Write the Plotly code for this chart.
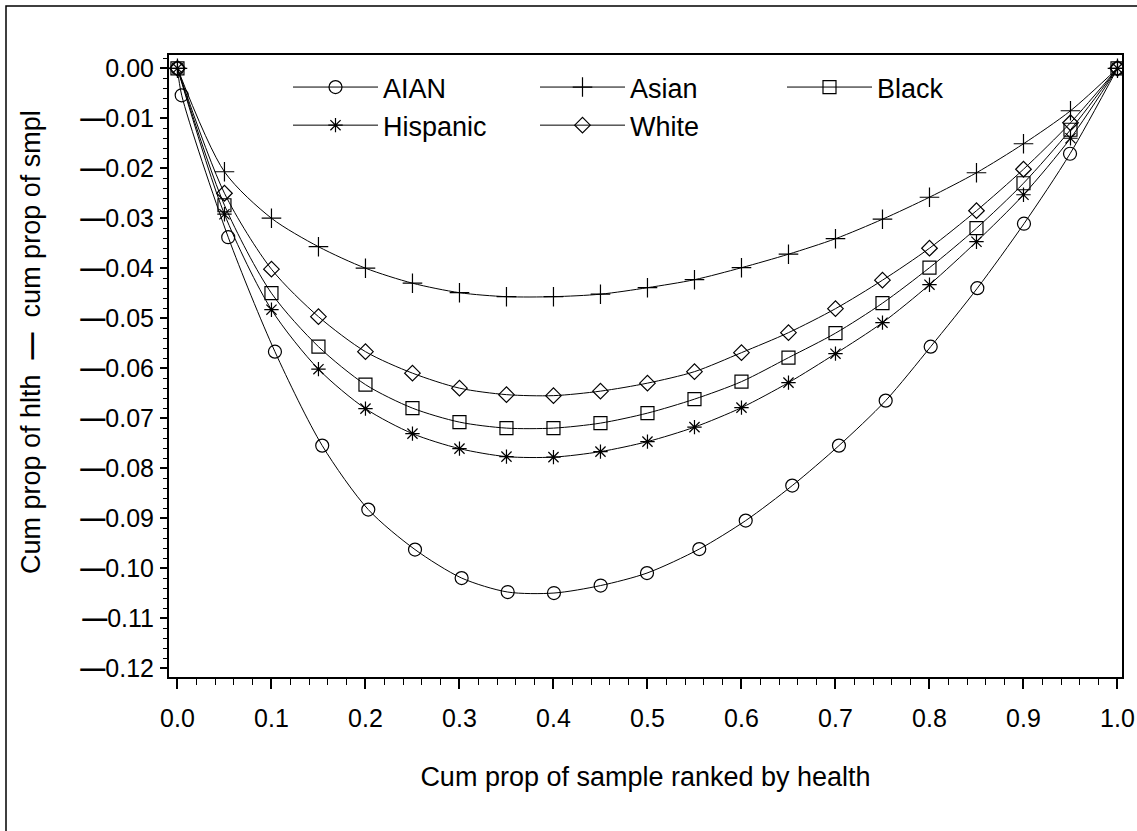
import plotly.graph_objects as go

# ---- data ----
grid = [0.00, 0.05, 0.10, 0.15, 0.20, 0.25, 0.30, 0.35, 0.40, 0.45, 0.50,
        0.55, 0.60, 0.65, 0.70, 0.75, 0.80, 0.85, 0.90, 0.95, 1.00]

aian_x = [0.0, 0.0045, 0.054, 0.1037, 0.154, 0.203, 0.2527, 0.3023, 0.3513, 0.4005,
          0.4502, 0.4995, 0.5551, 0.6045, 0.654, 0.7037, 0.7534, 0.8013, 0.8509,
          0.9005, 0.9495, 1.0]
aian_y = [0.0, -0.0054, -0.0338, -0.0567, -0.0755, -0.0883, -0.0963, -0.1020, -0.1048,
          -0.1050, -0.1035, -0.1010, -0.0962, -0.0905, -0.0835, -0.0755, -0.0665,
          -0.0557, -0.0440, -0.0311, -0.0171, 0.0]

asian_y = [0.0, -0.0207, -0.0300, -0.0357, -0.0400, -0.0430, -0.0449, -0.0457, -0.0457,
           -0.0452, -0.0439, -0.0423, -0.0399, -0.0372, -0.0341, -0.0302, -0.0258,
           -0.0209, -0.0151, -0.0085, 0.0]

black_y = [0.0, -0.0274, -0.0450, -0.0557, -0.0633, -0.0680, -0.0708, -0.0720, -0.0720,
           -0.0710, -0.0690, -0.0662, -0.0627, -0.0579, -0.0530, -0.0470, -0.0399,
           -0.0320, -0.0230, -0.0123, 0.0]

hisp_y = [0.0, -0.0292, -0.0483, -0.0602, -0.0681, -0.0731, -0.0761, -0.0777, -0.0778,
          -0.0767, -0.0747, -0.0718, -0.0679, -0.0629, -0.0571, -0.0509, -0.0433,
          -0.0347, -0.0253, -0.0140, 0.0]

white_y = [0.0, -0.0250, -0.0402, -0.0497, -0.0567, -0.0610, -0.0640, -0.0653, -0.0655,
           -0.0646, -0.0630, -0.0607, -0.0569, -0.0529, -0.0481, -0.0424, -0.0360,
           -0.0285, -0.0202, -0.0109, 0.0]

x_ticks = [0.0, 0.1, 0.2, 0.3, 0.4, 0.5, 0.6, 0.7, 0.8, 0.9, 1.0]
y_ticks = [0.00, -0.01, -0.02, -0.03, -0.04, -0.05, -0.06, -0.07, -0.08, -0.09,
           -0.10, -0.11, -0.12]

FONT = "Liberation Sans, Arial, sans-serif"


def ylab(v):
    s = f"{abs(v):.2f}"
    return s if v == 0 else "<b>\u2014</b>" + s


series = [
    ("AIAN", aian_x, aian_y, "circle-open", 13),
    ("Asian", grid, asian_y, "cross-thin-open", 14),
    ("Black", grid, black_y, "square-open", 13),
    ("Hispanic", grid, hisp_y, "asterisk-open", 12),
    ("White", grid, white_y, "diamond-open", 12),
]

fig = go.Figure()
for name, xs, ys, sym, sz in series:
    fig.add_trace(go.Scatter(
        x=xs, y=ys, name=name, mode="lines+markers",
        line=dict(color="black", width=1, shape="spline", smoothing=0.8),
        marker=dict(symbol=sym, size=sz, color="black",
                    line=dict(color="black", width=1.2)),
    ))

W, H = 1137, 831
ml, mr, mt, mb = 169, 15, 55, 154
pw, ph = W - ml - mr, H - mt - mb

fig.update_layout(
    width=W, height=H,
    margin=dict(l=ml, r=mr, t=mt, b=mb, pad=0),
    paper_bgcolor="white", plot_bgcolor="white",
    font=dict(family=FONT, size=25, color="black"),
    showlegend=True,
    legend=dict(
        orientation="h", x=(288 - ml) / pw, y=(677 - 63) / ph,
        xanchor="left", yanchor="top",
        entrywidth=147, entrywidthmode="pixels",
        itemwidth=85, bgcolor="rgba(0,0,0,0)",
        font=dict(family=FONT, size=27, color="black"),
        traceorder="normal",
    ),
    xaxis=dict(
        range=[-0.009, 1.0048],
        tickvals=x_ticks, ticktext=[f"{v:.1f}" for v in x_ticks],
        ticks="outside", ticklen=10, tickwidth=1.5, tickcolor="black",
        minor=dict(dtick=0.02, tick0=0, ticks="outside", ticklen=6,
                   tickwidth=1, tickcolor="black"),
        showline=True, linewidth=2, linecolor="black", mirror=True,
        showgrid=False, zeroline=False,
        tickfont=dict(family=FONT, size=25),
        ticklabelstandoff=8,
        title=dict(text="Cum prop of sample ranked by health",
                   font=dict(family=FONT, size=27), standoff=36),
        automargin=False,
    ),
    yaxis=dict(
        range=[-0.1218, 0.00266],
        tickvals=y_ticks, ticktext=[ylab(v) for v in y_ticks],
        ticks="outside", ticklen=7, tickwidth=1.5, tickcolor="black",
        minor=dict(dtick=0.002, tick0=0, ticks="outside", ticklen=4,
                   tickwidth=1, tickcolor="black"),
        showline=True, linewidth=2, linecolor="black", mirror=True,
        showgrid=False, zeroline=False,
        tickfont=dict(family=FONT, size=25),
        ticklabelstandoff=1,
        automargin=False,
    ),
    annotations=[
        dict(text="Cum prop of hlth\u00a0\u00a0<b>\u2014</b>\u00a0\u00a0cum prop of smpl",
             xref="paper", yref="paper",
             x=(31 - ml) / pw, y=(677 - 342) / ph,
             xanchor="center", yanchor="middle", textangle=-90,
             showarrow=False, font=dict(family=FONT, size=27, color="black")),
    ],
    shapes=[
        dict(type="rect", xref="paper", yref="paper",
             x0=(6 - ml) / pw, x1=(1150 - ml) / pw,
             y0=(677 - 845) / ph, y1=(677 - 6) / ph,
             line=dict(color="black", width=1.5), fillcolor="rgba(0,0,0,0)",
             layer="below"),
    ],
)

fig.write_html("out.html")
